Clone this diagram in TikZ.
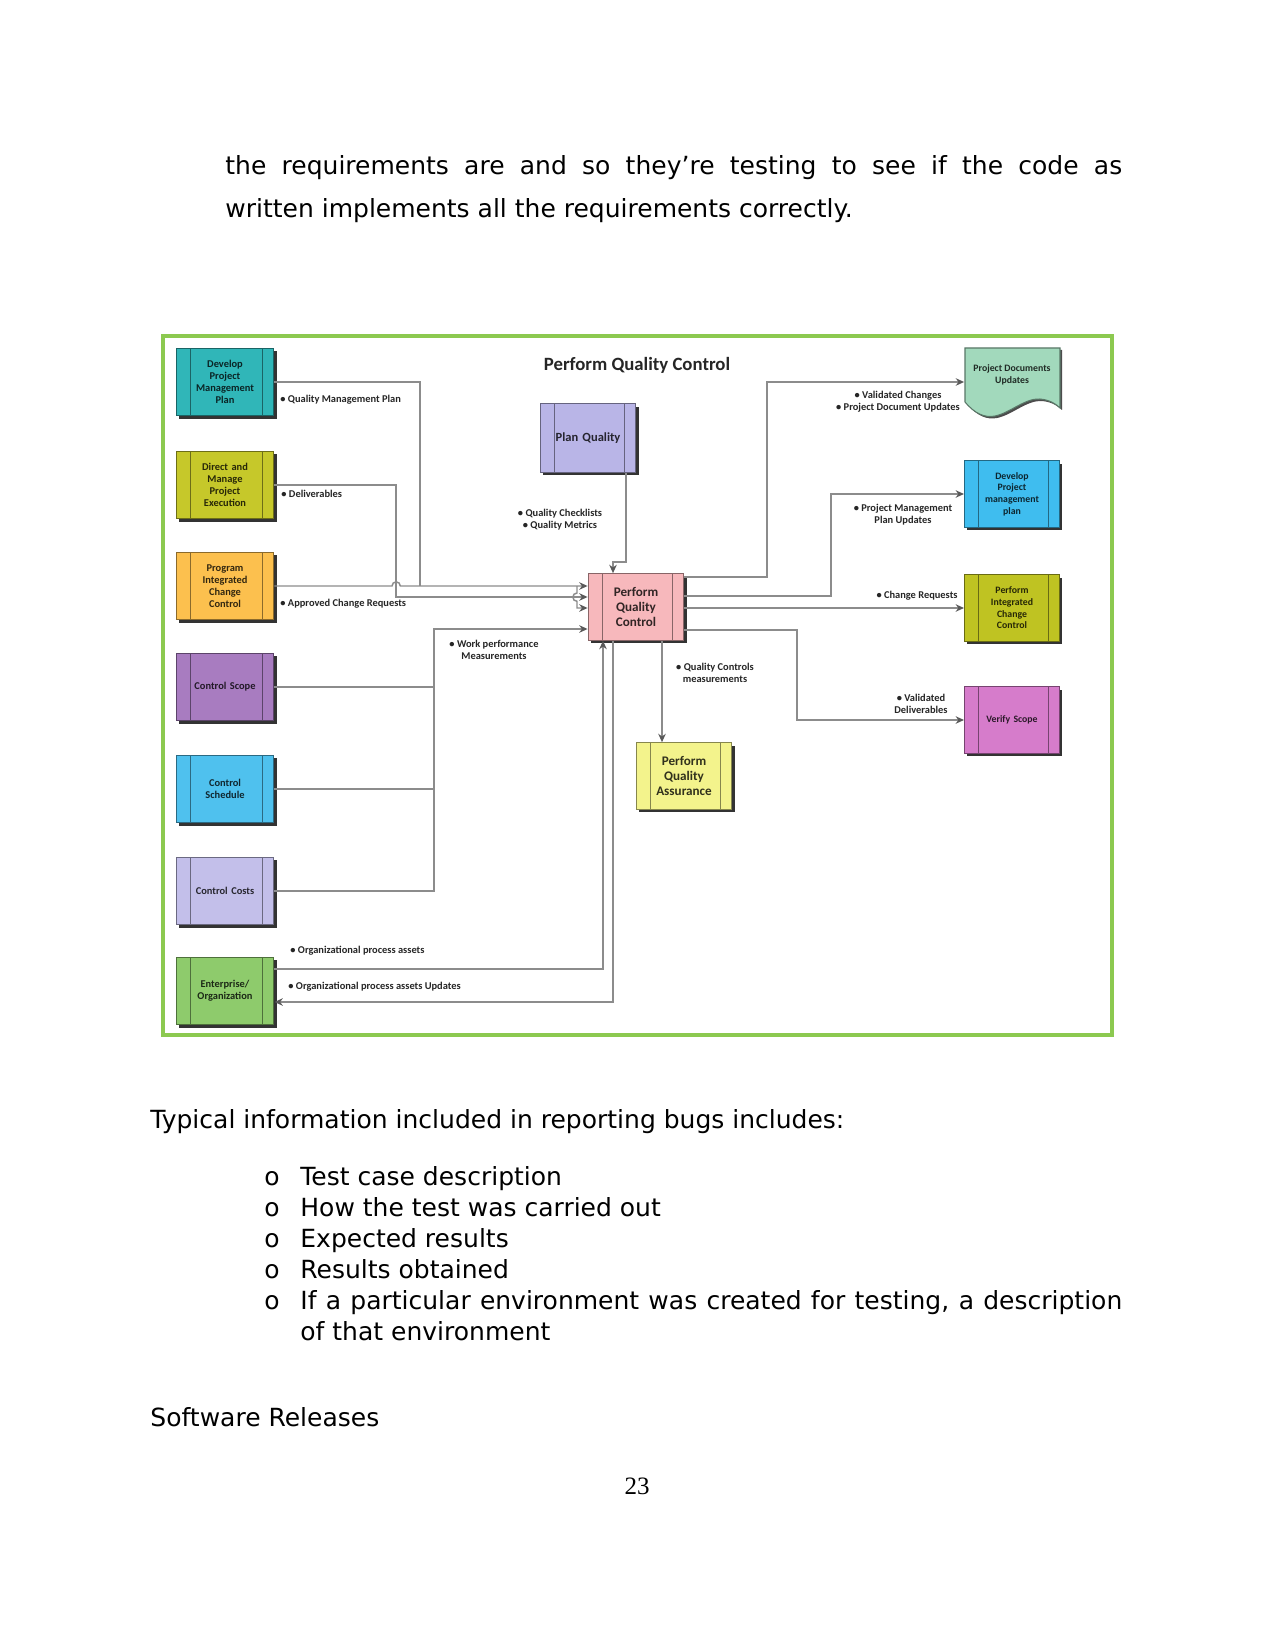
\documentclass[tikz,border=0pt]{standalone}
\usepackage{fontspec}
\setmainfont{DejaVu Sans}
\newfontfamily\diafont{Carlito}
\newfontfamily\pnfont{Liberation Serif}
\usetikzlibrary{arrows.meta,shadows}
\definecolor{frameg}{HTML}{8CC950}
\definecolor{cteal}{HTML}{30B6B8}
\definecolor{colive}{HTML}{C6C82A}
\definecolor{corange}{HTML}{FCC04E}
\definecolor{cpurple}{HTML}{A87CC0}
\definecolor{csky}{HTML}{4FC1EE}
\definecolor{clav}{HTML}{C3BFEA}
\definecolor{cgreen}{HTML}{8ECB6C}
\definecolor{cplan}{HTML}{B9B5E7}
\definecolor{cpink}{HTML}{F7B8BC}
\definecolor{cyel}{HTML}{F3F38C}
\definecolor{cmint}{HTML}{A2D9BC}
\definecolor{cblue}{HTML}{3FBDEF}
\definecolor{colivetwo}{HTML}{BFC322}
\definecolor{cmag}{HTML}{D67CCB}
\definecolor{lgray}{HTML}{8C8C8C}
\tikzset{
  proc/.style={rectangle, fill=#1, draw=#1!55!black, line width=0.5pt,
    text=#1!20!black, font=\diafont\bfseries\fontsize{5}{5.8}\selectfont,
    align=center, inner sep=0pt, text width=44pt,
    minimum width=47pt, minimum height=32.6pt,
    drop shadow={shadow xshift=1.4pt,shadow yshift=-1.4pt,opacity=1,fill=black!80},
    path picture={\draw[#1!55!black, line width=0.5pt]
      ([xshift=6.8pt]path picture bounding box.north west) -- ([xshift=6.8pt]path picture bounding box.south west)
      ([xshift=-5.3pt]path picture bounding box.north east) -- ([xshift=-5.3pt]path picture bounding box.south east);}},
  rbox/.style={minimum width=45.6pt, minimum height=32pt, text width=42pt, font=\diafont\bfseries\fontsize{4.7}{5.6}\selectfont},
  cbox/.style={minimum width=46pt, minimum height=32pt, text width=42pt, font=\diafont\bfseries\fontsize{6.3}{7}\selectfont},
  conn/.style={draw=lgray, line width=0.7pt, -{Stealth[length=4pt,width=3.6pt,color=black!65]}},
  plain/.style={draw=lgray, line width=0.7pt},
  lbl/.style={font=\diafont\bfseries\fontsize{5}{5.9}\selectfont, text=black!85, inner sep=0pt, align=center},
  body/.style={font=\fontsize{12}{14}\selectfont, inner sep=0pt, text=black}
}
\begin{document}
\begin{tikzpicture}[x=0.48pt,y=-0.48pt]
\fill[white] (0,0) rectangle (1275,1650);
\useasboundingbox (0,0) rectangle (1275,1650);

% page text
\node[body, anchor=base west] (t1) at (225,175) {\makebox[430.5pt][s]{the requirements are and so they’re testing to see if the code as}};
\node[body, anchor=base west] (t2) at (225,218) {written implements all the requirements correctly.};
\node[body, anchor=base west] (t3) at (150,1128) {Typical information included in reporting bugs includes:};
\node[body, anchor=base west] (b1) at (264,1185) {o};
\node[body, anchor=base west] (l1) at (300,1185) {Test case description};
\node[body, anchor=base west] (b2) at (264,1216) {o};
\node[body, anchor=base west] (l2) at (300,1216) {How the test was carried out};
\node[body, anchor=base west] (b3) at (264,1247) {o};
\node[body, anchor=base west] (l3) at (300,1247) {Expected results};
\node[body, anchor=base west] (b4) at (264,1278) {o};
\node[body, anchor=base west] (l4) at (300,1278) {Results obtained};
\node[body, anchor=base west] (b5) at (264,1309) {o};
\node[body, anchor=base west] (l5) at (300,1309) {\makebox[394.5pt][s]{If a particular environment was created for testing, a description}};
\node[body, anchor=base west] (l6) at (300,1340) {of that environment};
\node[body, anchor=base west] (t4) at (150,1426) {Software Releases};
\node[body, anchor=base, font=\pnfont\fontsize{12}{14}\selectfont] (pn) at (637,1494) {23};

% frame
\draw[frameg, line width=2.2pt] (163,336) rectangle (1112,1035);
\node[font=\diafont\bfseries\fontsize{9}{11}\selectfont, text=black!85, inner sep=0pt] (title) at (637,365) {Perform Quality Control};

% left boxes
\node[proc=cteal] (dpmpl) at (225,382) {Develop\\Project\\Management\\Plan};
\node[proc=colive] (dmpe) at (225,485) {Direct and\\Manage\\Project\\Execution};
\node[proc=corange] (picl) at (225,586) {Program\\Integrated\\Change\\Control};
\node[proc=cpurple] (cscope) at (225,687) {Control Scope};
\node[proc=csky] (csched) at (225,789) {Control\\Schedule};
\node[proc=clav] (ccost) at (225,891) {Control Costs};
\node[proc=cgreen] (ent) at (225,991) {Enterprise/\\Organization};

% center boxes
\node[proc=cplan, cbox, minimum height=33pt, font=\diafont\bfseries\fontsize{6}{7}\selectfont] (pq) at (588,438) {Plan Quality};
\node[proc=cpink, cbox] (pqc) at (636,607) {Perform\\Quality\\Control};
\node[proc=cyel, cbox] (pqa) at (684,776) {Perform\\Quality\\Assurance};

% right boxes
\begin{scope}[shift={(2,2)}]
\fill[black!70] (965,348) -- (1060,348) -- (1060,408) .. controls (1056,404) and (1050,400) .. (1040,399) .. controls (1025,398) and (1010,413) .. (995,416) .. controls (985,418) and (975,414) .. (965,402) -- cycle;
\end{scope}
\draw[fill=cmint, draw=cmint!55!black, line width=0.5pt] (965,348) -- (1060,348) -- (1060,408) .. controls (1056,404) and (1050,400) .. (1040,399) .. controls (1025,398) and (1010,413) .. (995,416) .. controls (985,418) and (975,414) .. (965,402) -- cycle;
\node[minimum width=45.6pt, minimum height=33pt, inner sep=0pt] (pdu) at (1012,382) {};
\node[font=\diafont\bfseries\fontsize{4.7}{5.6}\selectfont, text=cmint!20!black, align=center, inner sep=0pt] (pdutxt) at (1012,375) {Project Documents\\Updates};
\node[proc=cblue, rbox] (dpmpr) at (1012,494) {Develop\\Project\\management\\plan};
\node[proc=colivetwo, rbox] (picr) at (1012,608) {Perform\\Integrated\\Change\\Control};
\node[proc=cmag, rbox] (vs) at (1012,720) {Verify Scope};

% inputs
\draw[plain] (dpmpl.east) -| (420,586);
\draw[conn] (picl.east) -- (392,586) arc[start angle=180,end angle=0,radius=2pt] -- (pqc.west |- 0,586);
\draw[conn] (dmpe.east) -| (396,597) -- (pqc.west |- 0,597);
\coordinate (br) at (577,586);
\draw[conn] (br) -- (577,593) arc[start angle=90,end angle=270,radius=2pt] -- (577,608) -- (pqc.west |- 0,608);
\draw[conn] (cscope.east) -- (434,687) -- (434,629) -- (pqc.west |- 0,629);
\draw[plain] (csched.east) -- (csched.east -| 434,0);
\draw[plain] (ccost.east) -- (ccost.east -| 434,0) -- (434,687);
\draw[conn] (ent.east |- 0,969) -- (603,969) -- (603,0 |- pqc.south);
\draw[conn] (613,0 |- pqc.south) -- (613,1002) -- (ent.east |- 0,1002);
\draw[conn] (626,0 |- pq.south) -- (626,562) -- (613,562) -- (613,0 |- pqc.north);

% outputs
\draw[conn] (pqc.east |- 0,577) -- (767,577) -- (767,382) -- (pdu.west);
\draw[conn] (pqc.east |- 0,596) -- (831,596) -- (831,494) -- (dpmpr.west);
\draw[conn] (pqc.east |- 0,608) -- (picr.west);
\draw[conn] (pqc.east |- 0,630) -- (797,630) -- (797,720) -- (vs.west);
\draw[conn] (662,0 |- pqc.south) -- (662,0 |- pqa.north);

% labels
\node[lbl, anchor=west] (lqmp) at (280,400) {\textbullet{} Quality Management Plan};
\node[lbl, anchor=west] (ldel) at (281,494) {\textbullet{} Deliverables};
\node[lbl, anchor=west] (lacr) at (280,604) {\textbullet{} Approved Change Requests};
\node[lbl] (lwpm) at (494,650) {\textbullet{} Work performance\\Measurements};
\node[lbl, anchor=west] (lopa) at (290,951) {\textbullet{} Organizational process assets};
\node[lbl, anchor=west] (lopu) at (288,987) {\textbullet{} Organizational process assets Updates};
\node[lbl] (lqc) at (560,520) {\textbullet{} Quality Checklists\\\textbullet{} Quality Metrics};
\node[lbl] (lvc) at (898,402) {\textbullet{} Validated Changes\\\textbullet{} Project Document Updates};
\node[lbl] (lpmp) at (903,515) {\textbullet{} Project Management\\Plan Updates};
\node[lbl] (lcr) at (917,596) {\textbullet{} Change Requests};
\node[lbl] (lvd) at (921,704) {\textbullet{} Validated\\Deliverables};
\node[lbl] (lqcm) at (715,673) {\textbullet{} Quality Controls\\measurements};
\end{tikzpicture}
\end{document}
